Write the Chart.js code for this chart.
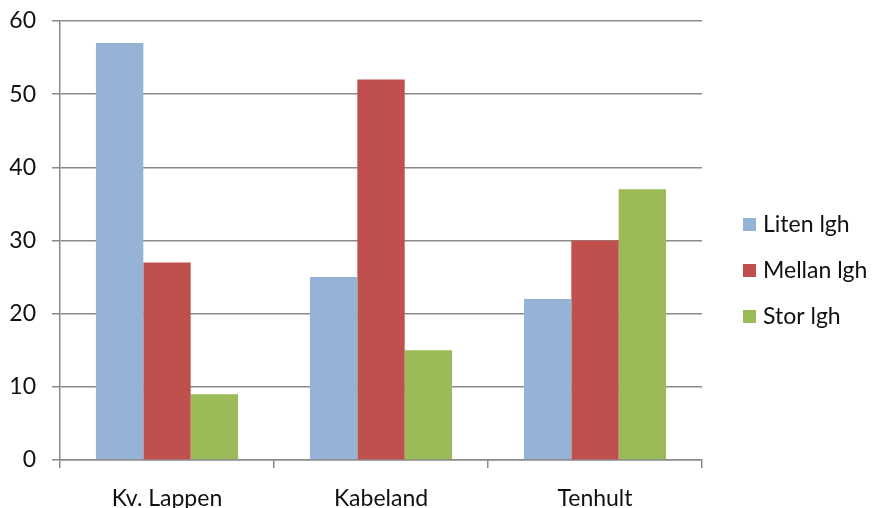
<!DOCTYPE html>
<html>
<head>
<meta charset="utf-8">
<script src="https://cdn.jsdelivr.net/npm/chart.js@4"></script>
<style>
  html, body { margin: 0; padding: 0; background: #fff; }
  #wrap { width: 872px; height: 508px; }
</style>
</head>
<body>
<div id="wrap"><canvas id="c" width="872" height="508"></canvas></div>
<script>
const categories = ['Kv. Lappen', 'Kabeland', 'Tenhult'];
const seriesNames = ['Liten lgh', 'Mellan lgh', 'Stor lgh'];
const litenValues = [57, 25, 22];
const mellanValues = [27, 52, 30];
const storValues = [9, 15, 37];
const yTicks = [0, 10, 20, 30, 40, 50, 60];

const colors = ['#95B3D7', '#C0504D', '#9BBB59'];
const FONT = 'Lato, "Open Sans", sans-serif';

// Legend on the right: colour square plus series name for each dataset
const sideLegend = {
  id: 'sideLegend',
  afterDraw(chart) {
    const ctx = chart.ctx;
    const x = 743, y0 = 224.5, step = 46, box = 13;
    ctx.save();
    ctx.font = '23px ' + FONT;
    ctx.textBaseline = 'middle';
    ctx.textAlign = 'left';
    chart.data.datasets.forEach((ds, i) => {
      const cy = y0 + i * step;
      ctx.fillStyle = ds.backgroundColor;
      ctx.fillRect(x, cy - box / 2, box, box);
      ctx.fillStyle = '#111';
      ctx.fillText(ds.label, x + 20, cy);
    });
    ctx.restore();
  }
};

new Chart(document.getElementById('c'), {
  type: 'bar',
  data: {
    labels: categories,
    datasets: [
      { label: seriesNames[0], data: litenValues, backgroundColor: colors[0] },
      { label: seriesNames[1], data: mellanValues, backgroundColor: colors[1] },
      { label: seriesNames[2], data: storValues, backgroundColor: colors[2] }
    ]
  },
  options: {
    responsive: false,
    animation: false,
    layout: { padding: { top: 21, right: 170, left: 0, bottom: 0 } },
    datasets: { bar: { categoryPercentage: 0.664, barPercentage: 1.0, borderWidth: 0 } },
    plugins: {
      legend: { display: false },
      tooltip: { enabled: false }
    },
    scales: {
      x: {
        grid: {
          offset: true,
          drawOnChartArea: false,
          drawTicks: true,
          tickLength: 8,
          color: '#8a8a8a',
          lineWidth: 1.5
        },
        border: { display: true, color: '#8a8a8a', width: 1.5 },
        ticks: { font: { family: FONT, size: 23 }, color: '#111', padding: 17, maxRotation: 0 },
        afterFit(scale) { scale.height = 48; }
      },
      y: {
        min: 0,
        max: 60,
        afterBuildTicks(scale) { scale.ticks = yTicks.map(v => ({ value: v })); },
        grid: {
          drawTicks: true,
          tickLength: 8,
          color: '#8a8a8a',
          lineWidth: 1.5
        },
        border: { display: true, color: '#8a8a8a', width: 1.5 },
        ticks: { font: { family: FONT, size: 23 }, color: '#111', padding: 16 },
        afterFit(scale) {
          scale.width = 60;
          scale.paddingTop = 0;
          scale.paddingBottom = 0;
        }
      }
    }
  },
  plugins: [sideLegend]
});
</script>
</body>
</html>
